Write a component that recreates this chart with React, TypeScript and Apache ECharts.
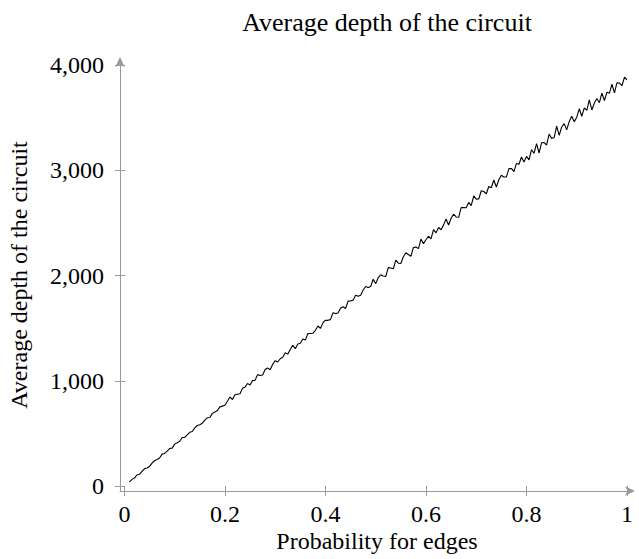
import React, { useEffect, useRef } from "react";
import * as echarts from "echarts";

const titleText = "Average depth of the circuit";
const xAxisName = "Probability for edges";
const yAxisName = "Average depth of the circuit";
const xTicks = [0, 0.2, 0.4, 0.6, 0.8, 1];
const yTicks = [0, 1000, 2000, 3000, 4000];
const xStart = 0.01;
const xStep = 0.005;
const depth = [
  39, 63, 75, 105, 111, 138, 165, 171, 186, 218,
  240, 252, 266, 303, 309, 332, 356, 360, 398, 411,
  425, 461, 462, 486, 510, 518, 552, 575, 582, 597,
  626, 648, 651, 690, 702, 717, 752, 759, 768, 806,
  846, 821, 867, 872, 876, 929, 939, 974, 960, 1001,
  1005, 1058, 1050, 1055, 1107, 1121, 1104, 1157, 1191, 1178,
  1209, 1223, 1266, 1253, 1296, 1337, 1305, 1349, 1356, 1397,
  1386, 1448, 1449, 1451, 1479, 1520, 1497, 1550, 1575, 1574,
  1581, 1646, 1638, 1643, 1689, 1703, 1686, 1757, 1758, 1766,
  1812, 1802, 1812, 1862, 1896, 1886, 1896, 1964, 1923, 1979,
  2007, 1995, 1992, 2075, 2072, 2064, 2147, 2117, 2114, 2178,
  2216, 2199, 2183, 2265, 2271, 2255, 2346, 2303, 2340, 2373,
  2348, 2435, 2405, 2456, 2435, 2481, 2537, 2480, 2544, 2582,
  2556, 2553, 2645, 2646, 2643, 2694, 2664, 2756, 2726, 2727,
  2805, 2798, 2777, 2846, 2834, 2907, 2841, 2910, 2952, 2936,
  2937, 3015, 3017, 2987, 3065, 3057, 3126, 3078, 3132, 3098,
  3195, 3161, 3252, 3164, 3261, 3263, 3240, 3344, 3303, 3311,
  3420, 3332, 3411, 3443, 3384, 3464, 3513, 3461, 3504, 3584,
  3513, 3593, 3570, 3668, 3573, 3639, 3682, 3642, 3733, 3663,
  3742, 3732, 3817, 3735, 3832, 3828, 3805, 3885, 3858,
];

const FONT = "Liberation Serif";
const AXIS_COLOR = "#9a9a9a";

export default function App() {
  const ref = useRef<HTMLDivElement>(null);
  useEffect(() => {
    document.body.style.margin = "0";
    if (!ref.current) return;
    const chart = echarts.init(ref.current, null, { renderer: "svg" });
    const data = depth.map((v, i) => [+(xStart + i * xStep).toFixed(3), v]);
    const commonX = {
      type: "value",
      position: "bottom",
      min: -0.00875,
      max: 1.0099,
      splitLine: { show: false },
    };
    const commonY = {
      type: "value",
      position: "left",
      min: -47.5,
      max: 4047.5,
      splitLine: { show: false },
    };
    chart.setOption({
      animation: false,
      textStyle: { fontFamily: FONT },
      title: {
        text: titleText,
        left: 382,
        textAlign: "center",
        top: 4,
        textStyle: { fontFamily: FONT, fontSize: 26, fontWeight: "normal", color: "#000" },
      },
      graphic: [
        {
          type: "text",
          x: 377,
          y: 541,
          style: {
            text: xAxisName,
            fontFamily: FONT,
            fontSize: 24,
            fill: "#000",
            align: "center",
            verticalAlign: "middle",
          },
        },
        {
          type: "text",
          x: 19,
          y: 275,
          rotation: Math.PI / 2,
          style: {
            text: yAxisName,
            fontFamily: FONT,
            fontSize: 24,
            fill: "#000",
            align: "center",
            verticalAlign: "middle",
          },
        },
      ],
      grid: { left: 120, right: 7, top: 60, bottom: 68 },
      xAxis: [
        {
          ...commonX,
          axisLine: {
            show: true,
            onZero: false,
            symbol: ["none", "arrow"],
            symbolSize: [7, 10],
            symbolOffset: [0, 3],
            lineStyle: { color: AXIS_COLOR, width: 1 },
          },
          axisTick: { show: true, length: 5, customValues: xTicks, lineStyle: { color: AXIS_COLOR } },
          axisLabel: {
            customValues: xTicks,
            margin: 11,
            fontFamily: FONT,
            fontSize: 24,
            color: "#000",
            formatter: (v: number) => String(v),
          },
        },
        {
          ...commonX,
          axisLine: { show: false, onZero: false },
          axisTick: { show: true, inside: true, length: 5, customValues: xTicks, lineStyle: { color: AXIS_COLOR } },
          axisLabel: { show: false },
        },
      ],
      yAxis: [
        {
          ...commonY,
          axisLine: {
            show: true,
            onZero: false,
            symbol: ["none", "arrow"],
            symbolSize: [7, 10],
            symbolOffset: [0, 3],
            lineStyle: { color: AXIS_COLOR, width: 1 },
          },
          axisTick: { show: true, length: 5, customValues: yTicks, lineStyle: { color: AXIS_COLOR } },
          axisLabel: {
            customValues: yTicks,
            margin: 16,
            fontFamily: FONT,
            fontSize: 24,
            color: "#000",
            formatter: (v: number) => v.toLocaleString("en-US"),
          },
        },
        {
          ...commonY,
          axisLine: { show: false, onZero: false },
          axisTick: { show: true, inside: true, length: 5, customValues: yTicks, lineStyle: { color: AXIS_COLOR } },
          axisLabel: { show: false },
        },
      ],
      series: [
        {
          type: "line",
          data,
          showSymbol: false,
          symbol: "none",
          lineStyle: { color: "#000", width: 1.1 },
          xAxisIndex: 0,
          yAxisIndex: 0,
        },
      ],
    });
    return () => chart.dispose();
  }, []);
  return <div ref={ref} style={{ width: 639, height: 559 }} />;
}
